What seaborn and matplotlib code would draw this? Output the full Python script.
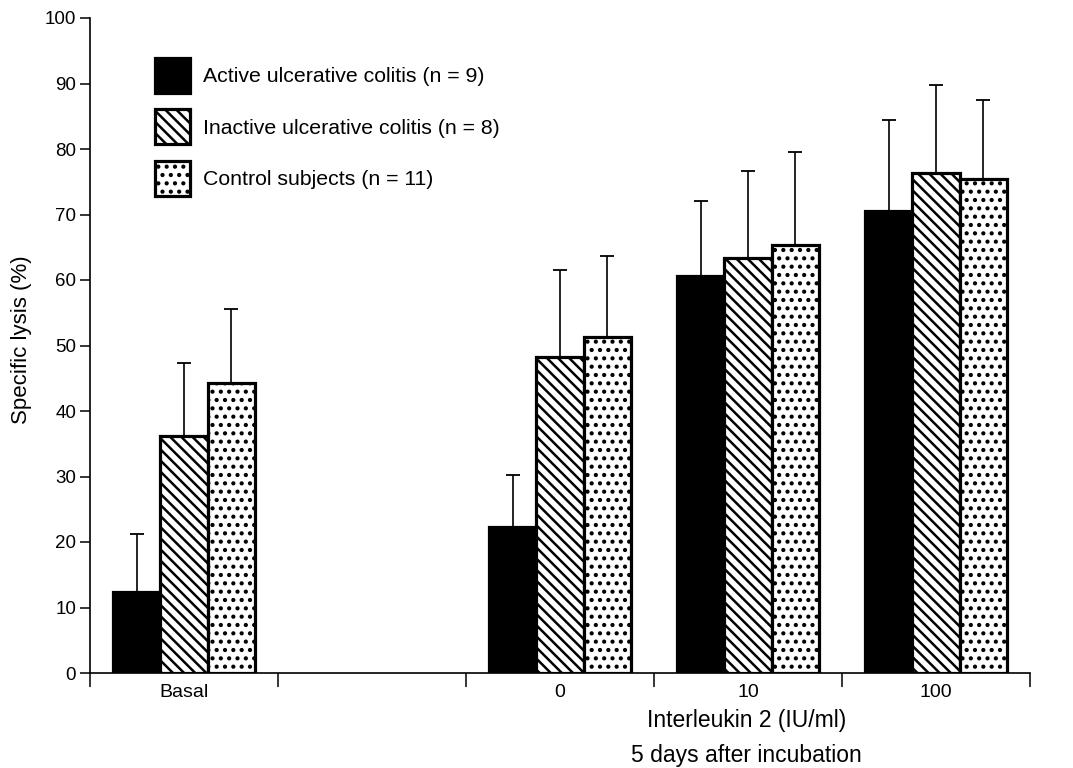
import matplotlib
matplotlib.use("Agg")
import matplotlib.pyplot as plt
import seaborn as sns
import pandas as pd
import numpy as np

# ---- data ----
conditions = ["Basal", "0", "10", "100"]
order = ["Basal", " ", "0", "10", "100"]   # blank slot between Basal and IL-2 groups
groups = ["Active ulcerative colitis (n = 9)",
          "Inactive ulcerative colitis (n = 8)",
          "Control subjects (n = 11)"]
active_mean = [12.3, 22.3, 60.6, 70.5]
active_sd = [8.9, 8.0, 11.5, 13.9]
inactive_mean = [36.2, 48.3, 63.3, 76.3]
inactive_sd = [11.2, 13.2, 13.3, 13.4]
control_mean = [44.3, 51.3, 65.3, 75.4]
control_sd = [11.2, 12.4, 14.2, 12.1]
y_ticks = list(range(0, 101, 10))
x_label = "Interleukin 2 (IU/ml)\n5 days after incubation"
y_label = "Specific lysis (%)"

means = [active_mean, inactive_mean, control_mean]
sds = [active_sd, inactive_sd, control_sd]
df = pd.DataFrame({
    "condition": conditions * 3,
    "group": sum([[g] * len(conditions) for g in groups], []),
    "lysis": active_mean + inactive_mean + control_mean,
})

sns.set_style("white")
plt.rcParams["font.family"] = ["Liberation Sans", "DejaVu Sans"]
plt.rcParams["hatch.linewidth"] = 1.8
plt.rcParams["text.color"] = "black"
plt.rcParams["axes.labelcolor"] = "black"
plt.rcParams["xtick.color"] = "black"
plt.rcParams["ytick.color"] = "black"

fig = plt.figure(figsize=(10.73, 7.68), dpi=100)
ax = fig.add_axes([90 / 1073, 1 - 673 / 768, 940 / 1073, 655 / 768])

sns.barplot(data=df, x="condition", y="lysis", hue="group", order=order,
            hue_order=groups, palette=["black", "white", "white"],
            saturation=1, width=0.755, edgecolor="black", linewidth=2.3,
            errorbar=None, legend=False, ax=ax)

hatches = [None, "\\\\\\", ".."]
for cont, h, sd in zip(ax.containers, hatches, sds):
    xs, ys = [], []
    for bar in cont.patches:
        if h:
            bar.set_hatch(h)
        xs.append(bar.get_x() + bar.get_width() / 2)
        ys.append(bar.get_height())
    ax.errorbar(xs, ys, yerr=[np.zeros(len(sd)), sd], fmt="none",
                ecolor="black", elinewidth=1.2, capsize=5, capthick=1.3,
                zorder=1)

ax.set_ylim(0, 100)
ax.set_xlim(-0.5, len(order) - 0.5)
ax.set_yticks(y_ticks)
ax.tick_params(axis="y", which="major", direction="out", length=7, width=1.1,
               left=True, labelsize=13.5, pad=3)
ax.tick_params(axis="x", which="major", length=0, labelsize=14, pad=8)
ax.set_xticks(np.arange(-0.5, len(order), 1.0), minor=True)
ax.tick_params(axis="x", which="minor", direction="out", length=10, width=1.1,
               bottom=True)
ax.set_xticklabels(["Basal", "", "0", "10", "100"])

for side in ["top", "right"]:
    ax.spines[side].set_visible(False)
for side in ["left", "bottom"]:
    ax.spines[side].set_color("black")
    ax.spines[side].set_linewidth(1.2)

ax.set_ylabel(y_label, fontsize=16, labelpad=9)
ax.yaxis.label.set_y((673 - 340) / 655)
ax.set_xlabel(x_label, fontsize=16.5, linespacing=1.65, labelpad=6)
ax.xaxis.label.set_x((746.5 - 90) / 940)

leg = ax.legend(handles=ax.containers, labels=groups, loc="upper left",
                bbox_to_anchor=(155 / 1073, 1 - 58 / 768),
                bbox_transform=fig.transFigure, frameon=False,
                fontsize=15.3, handlelength=1.67, handleheight=2.15,
                labelspacing=0.78, handletextpad=0.6, borderpad=0,
                borderaxespad=0)

fig.savefig("out.png", dpi=100, facecolor="white")
